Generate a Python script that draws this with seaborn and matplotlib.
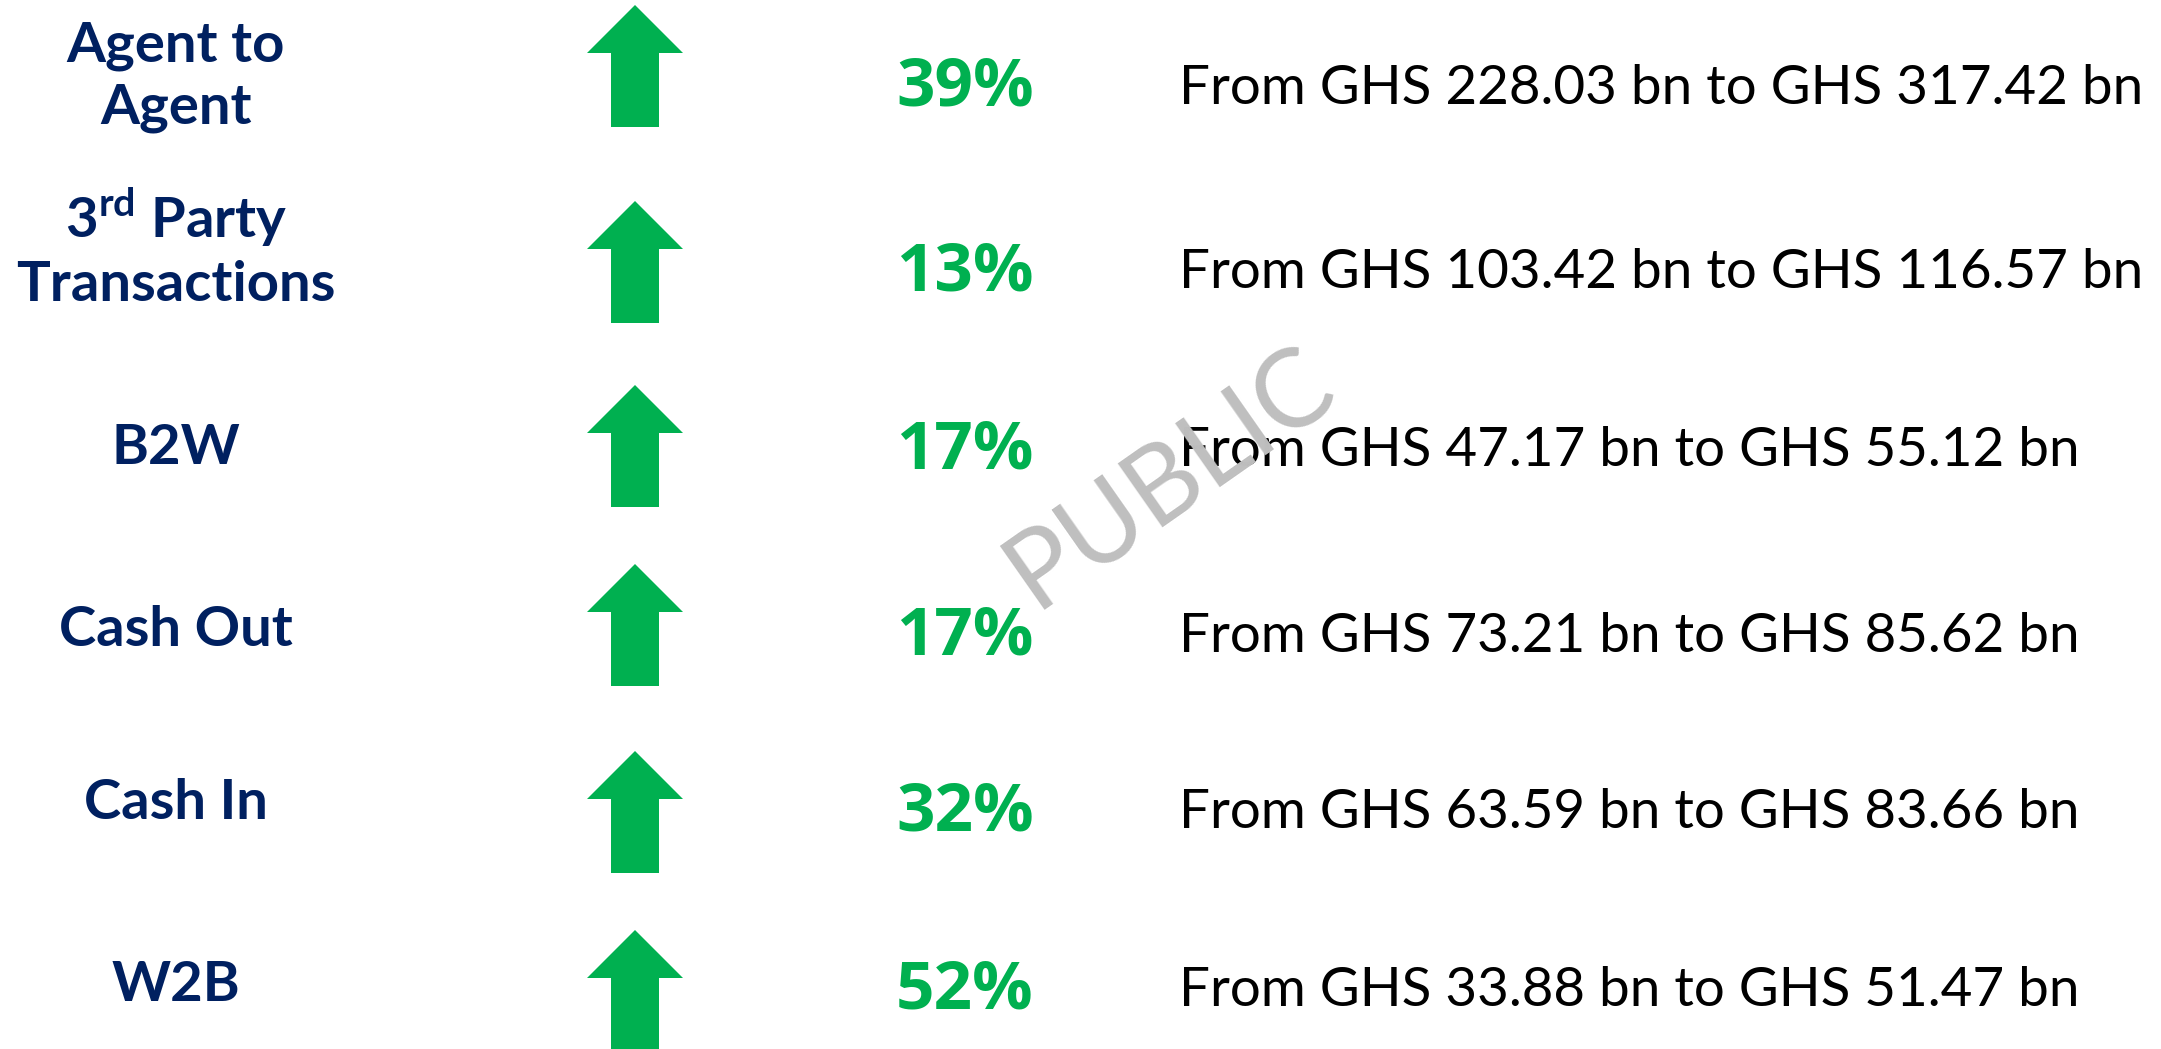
import matplotlib.pyplot as plt
from matplotlib.patches import FancyArrow
import seaborn as sns

sns.set_theme(style='white')
plt.rcParams['font.family'] = ['Lato', 'DejaVu Sans']
plt.rcParams['mathtext.fontset'] = 'custom'
plt.rcParams['mathtext.rm'] = 'Lato'
plt.rcParams['mathtext.bf'] = 'Lato:bold'

# data
categories = ['Agent to\nAgent', '3$^{\\mathbf{rd}}$ Party\nTransactions',
              'B2W', 'Cash Out', 'Cash In', 'W2B']
growth_pct = [39, 13, 17, 17, 32, 52]
value_from = [228.03, 103.42, 47.17, 73.21, 63.59, 33.88]
value_to = [317.42, 116.57, 55.12, 85.62, 83.66, 51.47]

NAVY = '#002060'
GREEN = '#00B050'
W, H = 2161, 1049

# vertical layout (pixels from top), slide rows are not evenly spaced
label_y = [77, 248, 448, 630, 803, 985]
arrow_y = [66, 262, 446, 625, 812, 991]
row_y = [88, 273, 451, 637, 813, 991]


def main():
    fig = plt.figure(figsize=(W / 100, H / 100), dpi=100)
    ax = fig.add_axes([0, 0, 1, 1])
    ax.set_xlim(0, W)
    ax.set_ylim(H, 0)
    ax.axis('off')

    for i, name in enumerate(categories):
        ax.text(176, label_y[i], name, ha='center', va='center', color=NAVY,
                fontsize=40.5, fontweight='bold', linespacing=1.28)
        yc = arrow_y[i]
        ax.add_patch(FancyArrow(635, yc + 61, 0, -122, width=48,
                                head_width=96, head_length=48,
                                length_includes_head=True,
                                color=GREEN, lw=0))
        ax.text(965, row_y[i], f'{growth_pct[i]}%', ha='center',
                va='center', color=GREEN, fontsize=48.5, fontweight='bold',
                family='Open Sans')
        ax.text(1179, row_y[i], f'From GHS {value_from[i]:.2f} bn to GHS '
                f'{value_to[i]:.2f} bn', ha='left', va='center',
                color='black', fontsize=39.4)

    ax.text(1170, 478, 'PUBLIC', ha='center', va='center', rotation=35,
            color='#BFBFBF', fontsize=78, rotation_mode='anchor')

    fig.savefig('out.png', dpi=100)


if __name__ == '__main__':
    main()
